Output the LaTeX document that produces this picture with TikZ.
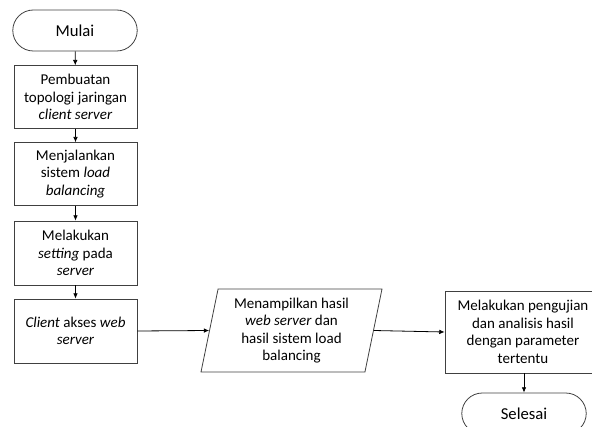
\documentclass[tikz,border=0pt]{standalone}
\usepackage{fontspec}
\setmainfont{Carlito}
\usetikzlibrary{shapes.misc,shapes.geometric,arrows.meta}
\begin{document}
\begin{tikzpicture}[x=0.75pt,y=-0.75pt,
  terminal/.style={rounded rectangle,draw=black!75,line width=0.6pt,minimum width=100pt,minimum height=30.75pt,font=\fontsize{12.5}{15}\selectfont},
  prosesbox/.style={rectangle,draw=black!75,line width=0.6pt,minimum width=92.25pt,minimum height=47pt,align=center,inner sep=1pt,font=\fontsize{11.25}{13.2}\selectfont},
  databox/.style={trapezium,trapezium left angle=76,trapezium right angle=104,trapezium stretches body,draw=black!75,line width=0.6pt,minimum width=135.75pt,minimum height=62.25pt,align=center,inner sep=1pt,font=\fontsize{11.25}{13.2}\selectfont},
  panah/.style={-{Latex[length=4pt,width=3.5pt]},line width=0.6pt}]
\useasboundingbox (0,0) rectangle (592,427);

\node[terminal] (mulai) at (75,30.5) {Mulai};
\node[prosesbox] (topologi) at (75.5,97) {Pembuatan\\topologi jaringan\\\textit{client server}};
\node[prosesbox] (loadbal) at (75.5,174) {Menjalankan\\sistem \textit{load}\\\textit{balancing}};
\node[prosesbox,minimum height=48pt] (setting) at (75.5,253) {Melakukan\\\textit{setting} pada\\\textit{server}};
\node[prosesbox,minimum height=48pt] (akses) at (75.5,331) {\textit{Client} akses \textit{web}\\\textit{server}};

\node[databox] (tampil) at (291.5,330.5) {Menampilkan hasil\\\textit{web server} dan\\hasil sistem load\\balancing};
\node[prosesbox,minimum width=117pt,minimum height=61.5pt] (uji) at (523,332) {Melakukan pengujian\\dan analisis hasil\\dengan parameter\\tertentu};
\node[terminal] (selesai) at (524,413.5) {Selesai};

\draw[panah] (mulai) -- (topologi);
\draw[panah] (topologi) -- (loadbal);
\draw[panah] (loadbal) -- (setting);
\draw[panah] (setting) -- (akses);
\draw[panah] (akses.east) -- (tampil.west);
\draw[panah] (tampil.east) -- (uji.west);
\draw[panah] (uji.south -| selesai.north) -- (selesai.north);
\end{tikzpicture}
\end{document}
